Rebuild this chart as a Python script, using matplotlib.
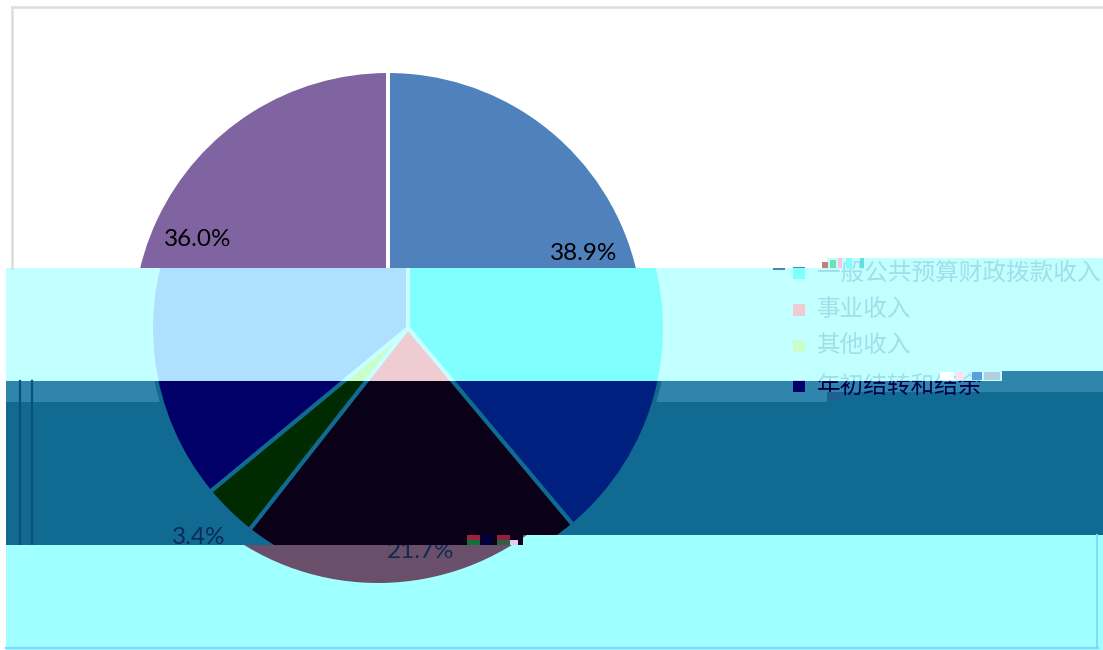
import matplotlib
matplotlib.use("Agg")
import matplotlib.pyplot as plt
from matplotlib.patches import Polygon, Rectangle

names = ['一般公共预算财政拨款收入', '事业收入', '其他收入', '年初结转和结余']
values = [38.9, 21.7, 3.4, 36.0]
pct_labels = ['38.9%', '21.7%', '3.4%', '36.0%']

W, H = 1103, 650
R = 257
CX, CY = 388, 328
legend_y = [273, 310, 346, 386]


def Y(py):
    return H - py


def poly(pts):
    return Polygon([(x, Y(y)) for x, y in pts], closed=True, transform=ax.transData,
                   facecolor='none', edgecolor='none')


def box(x0, y0, x1, y1):
    # agg only honours rectangles when clipping text
    return Rectangle((x0, Y(y1)), x1 - x0, y1 - y0, transform=ax.transData)


fig = plt.figure(figsize=(W / 100, H / 100), dpi=100)
ax = fig.add_axes([0, 0, 1, 1])

# the picture is cut in horizontal bands, each shifted and recoloured
bands = [
    {'shape': [(0, 0), (W, 0), (W, 258), (827, 258), (827, 268), (0, 268)],
     'rows': (0, 258), 'shift': 0, 'bg': 'white', 'edge': 'white', 'text': '#000000',
     'colors': ['#4F81BD', '#C0504D', '#9BBB59', '#8064A2']},
    {'shape': [(6, 268), (827, 268), (827, 258), (W, 258), (W, 371), (1002, 371), (1002, 381), (6, 381)],
     'rows': (258, 381), 'shift': 20, 'bg': '#C2FFFF', 'edge': '#C8FFFF', 'text': '#A0DEEA',
     'colors': ['#80FFFF', '#EFCCD2', '#C8FFC8', '#B0E0FF']},
    {'shape': [(6, 381), (1002, 381), (1002, 371), (W, 371), (W, 535), (523, 535), (523, 545), (6, 545)],
     'rows': (381, 545), 'shift': 20, 'bg': '#116A91', 'edge': '#116A91', 'text': '#00004A',
     'colors': ['#002080', '#0A0018', '#002A00', '#000068']},
    {'shape': [(6, 545), (523, 545), (523, 535), (W, 535), (W, 650), (6, 650)],
     'rows': (545, 650), 'shift': -10, 'bg': '#A0FFFF', 'edge': '#A0FFFF', 'text': '#0E2A50',
     'colors': ['#3F6F90', '#6A4F6B', '#4F7F60', '#405F90']},
]

for z, b in enumerate(bands):
    clip = poly(b['shape'])
    ax.add_patch(Polygon([(x, Y(y)) for x, y in b['shape']], closed=True,
                         facecolor=b['bg'], edgecolor='none', zorder=z * 10))

    if z == 2:
        # lighter strip on top of the dark band
        strip = Polygon([(x, Y(y)) for x, y in [(6, 381), (827, 381), (827, 371), (W, 371),
                                                (W, 392), (827, 392), (827, 402), (6, 402)]],
                        closed=True, facecolor='#2F85AC', edgecolor='none', zorder=z * 10 + 1)
        ax.add_patch(strip)
        strip.set_clip_path(clip)
        for lx in [20, 32]:
            ax.plot([lx, lx], [Y(381), Y(545)], color='#0A5078', lw=1.6, zorder=z * 10 + 1)

    wedges, _ = ax.pie(values, colors=b['colors'], startangle=90, counterclock=False,
                       center=(CX + b['shift'], Y(CY)), radius=R, frame=True,
                       wedgeprops={'edgecolor': b['edge'], 'linewidth': 2.9})
    for w in wedges:
        w.set_zorder(z * 10 + 2)
        w.set_clip_on(True)
        w.set_clip_path(clip)

    for i, name in enumerate(names):
        sq = Rectangle((793, Y(legend_y[i] + 6)), 12, 12, facecolor=b['colors'][i],
                       edgecolor='none', zorder=z * 10 + 3)
        ax.add_patch(sq)
        sq.set_clip_path(clip)
        t = ax.text(817, Y(legend_y[i]), name, fontsize=17, color=b['text'], va='center', ha='left',
                    family=['Noto Sans CJK SC', 'DejaVu Sans'], fontweight='light', zorder=z * 10 + 4,
                    clip_on=True)
        t.set_clip_path(box(0, b['rows'][0], W, b['rows'][1]))

# labels sit in the band they show up in
label_pos = [(584, 253, 0), (421, 551, 3), (199, 538, 2), (198, 239, 0)]
label_rows = [(0, 268), (545, 650), (381, 545), (0, 268)]
label_colors = ['#000000', '#0E2A50', '#0A2A5A', '#000000']
for lab, (lx, ly, k), rows, col in zip(pct_labels, label_pos, label_rows, label_colors):
    t = ax.text(lx, Y(ly), lab, fontsize=17.5, family='Lato', ha='center', va='center',
                color=col, zorder=50, clip_on=True)
    t.set_clip_path(box(0, rows[0], W, rows[1]))

# frame pieces
ax.plot([12, W], [Y(7), Y(7)], color='#DDDDDD', lw=1.8, zorder=60)
ax.plot([12, 12], [Y(7), Y(268)], color='#DDDDDD', lw=1.8, zorder=60)
ax.plot([6, 1098], [Y(648), Y(648)], color='#80D8FF', lw=1.6, zorder=60)
ax.plot([1097, 1097], [Y(535), Y(648)], color='#80D8FF', lw=1.4, zorder=60)
ax.add_patch(Rectangle((773, Y(270)), 12, 2, facecolor='#4F81BD', edgecolor='none', zorder=60))

# broken blocks
noise = [(822, 262, 6, 6, '#C08080'), (830, 260, 6, 8, '#70E0B0'), (838, 258, 4, 10, '#FFC0E0'),
         (846, 258, 6, 10, '#80FFFF'), (860, 258, 4, 10, '#60E0E0'),
         (940, 372, 14, 8, '#FFFFFF'), (956, 372, 8, 8, '#FFE0F0'), (972, 372, 10, 8, '#5AA0E0'),
         (984, 372, 16, 8, '#B0D0E0'), (828, 392, 12, 8, '#1F5F90'),
         (467, 535, 13, 5, '#A02040'), (467, 540, 13, 5, '#107040'),
         (482, 535, 10, 10, '#000040'),
         (497, 535, 13, 5, '#902040'), (497, 540, 13, 5, '#306040'), (510, 540, 8, 5, '#E8C8F0')]
for nx, ny, nw, nh, nc in noise:
    ax.add_patch(Rectangle((nx, Y(ny + nh)), nw, nh, facecolor=nc, edgecolor='none', zorder=61))

ax.set_xlim(0, W)
ax.set_ylim(0, H)
ax.axis('off')
fig.savefig('out.png', dpi=100)
